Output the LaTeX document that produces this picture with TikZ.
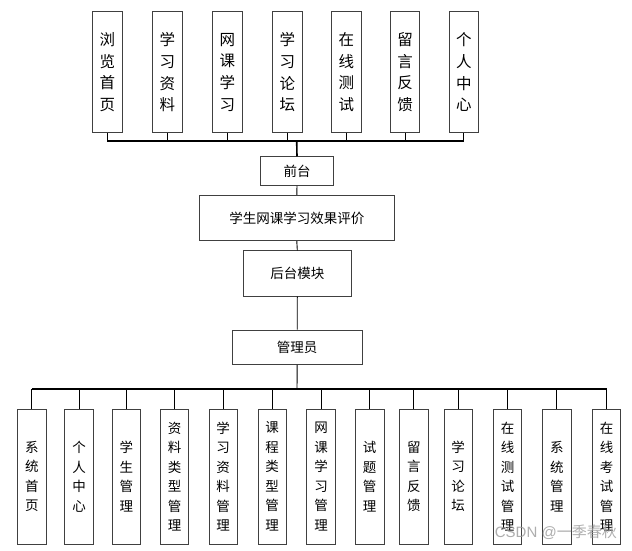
\documentclass[tikz,border=0pt]{standalone}
\usepackage{fontspec}
\newfontfamily\cjk{Noto Sans CJK SC}
\usetikzlibrary{calc}
\begin{document}
\begin{tikzpicture}[x=1pt,y=-1pt,
  box/.style={draw=black!75,line width=0.9pt,fill=white,inner sep=0pt,align=center},
  topbox/.style={box,minimum width=29.5pt,minimum height=121pt,font=\cjk\fontsize{15.5}{21.7}\selectfont},
  botbox/.style={box,minimum width=28.5pt,minimum height=135pt,font=\cjk\fontsize{13.5}{19.5}\selectfont},
  midbox/.style={box,font=\cjk\fontsize{13.5}{16}\selectfont},
  conn/.style={draw=black,line width=0.9pt},
  bus/.style={draw=black,line width=1.2pt}]
\useasboundingbox (0,0) rectangle (632,550);
% top row
\node[topbox] (t1) at (107.3,72.2) {浏\\览\\首\\页};
\node[topbox] (t2) at (167.3,72.2) {学\\习\\资\\料};
\node[topbox] (t3) at (227.3,72.2) {网\\课\\学\\习};
\node[topbox] (t4) at (287.3,72.2) {学\\习\\论\\坛};
\node[topbox] (t5) at (346.3,72.2) {在\\线\\测\\试};
\node[topbox] (t6) at (405.0,72.2) {留\\言\\反\\馈};
\node[topbox] (t7) at (463.8,72.2) {个\\人\\中\\心};
% middle column
\node[midbox,minimum width=72.6pt,minimum height=28.6pt] (qt) at (297,171) {前台};
\node[midbox,minimum width=195pt,minimum height=45.4pt] (pj) at (296.8,218) {学生网课学习效果评价};
\node[midbox,minimum width=108pt,minimum height=45.3pt] (ht) at (297.3,273.4) {后台模块};
\node[midbox,minimum width=129.7pt,minimum height=34.3pt] (gly) at (297.2,347.2) {管理员};
% bottom row
\node[botbox] (b1) at (31.9,476.5) {系\\统\\首\\页};
\node[botbox] (b2) at (79.0,476.5) {个\\人\\中\\心};
\node[botbox] (b3) at (126.3,476.5) {学\\生\\管\\理};
\node[botbox] (b4) at (174.5,476.5) {资\\料\\类\\型\\管\\理};
\node[botbox] (b5) at (223.2,476.5) {学\\习\\资\\料\\管\\理};
\node[botbox] (b6) at (272.2,476.5) {课\\程\\类\\型\\管\\理};
\node[botbox] (b7) at (321.0,476.5) {网\\课\\学\\习\\管\\理};
\node[botbox] (b8) at (369.7,476.5) {试\\题\\管\\理};
\node[botbox] (b9) at (413.8,476.5) {留\\言\\反\\馈};
\node[botbox] (b10) at (458.2,476.5) {学\\习\\论\\坛};
\node[botbox] (b11) at (507.5,476.5) {在\\线\\测\\试\\管\\理};
\node[botbox] (b12) at (556.8,476.5) {系\\统\\管\\理};
\node[botbox] (b13) at (606.5,476.5) {在\\线\\考\\试\\管\\理};
% top bus
\coordinate (tbus) at (296.7,141);
\draw[bus] (tbus -| t1) -- (tbus -| t7);
\foreach \n in {t1,t2,t3,t4,t5,t6,t7} \draw[conn] (\n.south) -- (tbus -| \n);
\draw[conn,line width=1.6pt] (tbus) -- (qt.north);
\draw[conn] (qt.south) -- (pj.north);
\draw[conn] (pj.south) -- (ht.north);
\draw[conn] (ht.south) -- (gly.north);
% bottom bus
\coordinate (bbus) at (297,389);
\draw[conn] (gly.south) -- (bbus);
\draw[bus] (bbus -| b1) -- (bbus -| b13);
\foreach \n in {b1,b2,b3,b4,b5,b6,b7,b8,b9,b10,b11,b12,b13} \draw[conn] (bbus -| \n) -- (\n.north);
% watermark
\node[text=black!40,opacity=0.8,font=\fontspec{Liberation Sans}\fontsize{15}{15}\selectfont,inner sep=0pt,anchor=east] (wm) at (617,532) {CSDN @{\cjk 一季春秋}};
\end{tikzpicture}
\end{document}
